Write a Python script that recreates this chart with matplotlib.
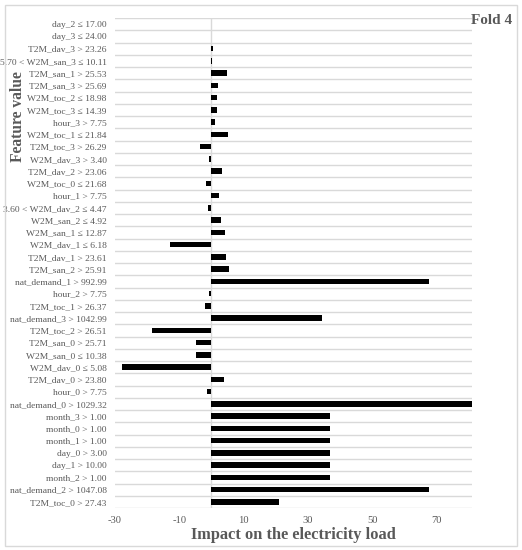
import numpy as np
import matplotlib.pyplot as plt
from matplotlib.patches import Rectangle

features = [
    "day_2 ≤ 17.00", "day_3 ≤ 24.00", "T2M_dav_3 > 23.26", "5.70 < W2M_san_3 ≤ 10.11",
    "T2M_san_1 > 25.53", "T2M_san_3 > 25.69", "W2M_toc_2 ≤ 18.98", "W2M_toc_3 ≤ 14.39",
    "hour_3 > 7.75", "W2M_toc_1 ≤ 21.84", "T2M_toc_3 > 26.29", "W2M_dav_3 > 3.40",
    "T2M_dav_2 > 23.06", "W2M_toc_0 ≤ 21.68", "hour_1 > 7.75", "3.60 < W2M_dav_2 ≤ 4.47",
    "W2M_san_2 ≤ 4.92", "W2M_san_1 ≤ 12.87", "W2M_dav_1 ≤ 6.18", "T2M_dav_1 > 23.61",
    "T2M_san_2 > 25.91", "nat_demand_1 > 992.99", "hour_2 > 7.75", "T2M_toc_1 > 26.37",
    "nat_demand_3 > 1042.99", "T2M_toc_2 > 26.51", "T2M_san_0 > 25.71", "W2M_san_0 ≤ 10.38",
    "W2M_dav_0 ≤ 5.08", "T2M_dav_0 > 23.80", "hour_0 > 7.75", "nat_demand_0 > 1029.32",
    "month_3 > 1.00", "month_0 > 1.00", "month_1 > 1.00", "day_0 > 3.00",
    "day_1 > 10.00", "month_2 > 1.00", "nat_demand_2 > 1047.08", "T2M_toc_0 > 27.43",
]
impact = [
    0.0, 0.0, 0.5, 0.3,
    4.9, 1.9, 1.8, 1.8,
    1.0, 5.1, -3.5, -0.8,
    3.3, -1.8, 2.3, -1.0,
    3.1, 4.1, -12.9, 4.6,
    5.6, 67.7, -0.7, -1.9,
    34.3, -18.5, -4.9, -4.9,
    -27.9, 3.9, -1.5, 84.0,
    36.8, 36.8, 36.8, 36.8,
    36.8, 36.8, 67.7, 21.0,
]
xticks = [-30, -10, 10, 30, 50, 70]

gray = "#595959"
grid = "#d9d9d9"
font = "Liberation Serif"

W, H = 522, 550
fig = plt.figure(figsize=(W / 100, H / 100), dpi=100)
fig.patches.append(Rectangle((5 / W, 4 / H), 512 / W, 541 / H, transform=fig.transFigure,
                             fill=False, edgecolor=grid, linewidth=1))

ax = fig.add_axes([115 / W, (H - 508) / H, (472 - 115) / W, (508 - 18) / H])
pos = np.arange(len(features))
ax.barh(pos, impact, height=0.45, color="black", zorder=3)
ax.set_xlim(-30, 81)
ax.set_ylim(len(features) - 0.5, -0.5)

ax.set_yticks(pos)
ax.set_yticklabels(features, fontsize=6.8, color=gray, family=font)
ax.set_yticks(np.arange(len(features) + 1) - 0.5, minor=True)
ax.grid(which="minor", axis="y", color=grid, linewidth=1)
ax.tick_params(axis="y", which="both", length=0, pad=6)
ax.axvline(0, color=grid, linewidth=1, zorder=2)

ax.set_xticks(xticks)
ax.set_xticklabels([str(t) for t in xticks], fontsize=7.6, color=gray, family=font)
ax.tick_params(axis="x", length=0, pad=6)
for s in ax.spines.values():
    s.set_visible(False)

fig.text(293 / W, 1 - 535 / H, "Impact on the electricity load", ha="center", va="center",
         fontsize=11.8, fontweight="bold", color=gray, family=font)
fig.text(18 / W, 1 - 117 / H, "Feature value", ha="center", va="center", rotation=90,
         fontsize=11.2, fontweight="bold", color=gray, family=font)
fig.text(512 / W, 1 - 20 / H, "Fold 4", ha="right", va="center",
         fontsize=11, fontweight="bold", color=gray, family=font)

fig.savefig("out.png", dpi=100)
